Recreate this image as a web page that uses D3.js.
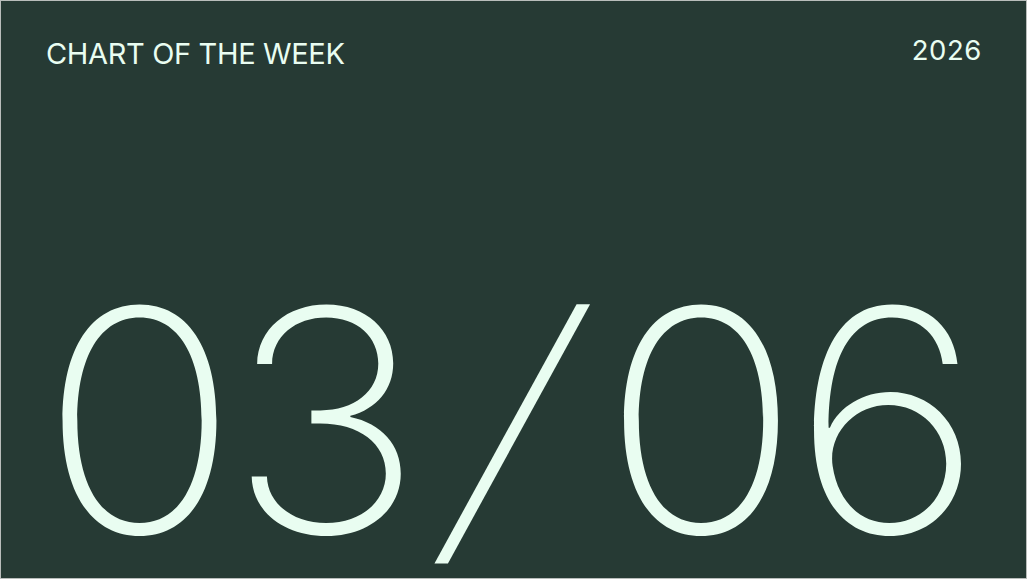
<!DOCTYPE html>
<html>
<head>
<meta charset="utf-8">
<script src="https://cdn.jsdelivr.net/npm/d3@7"></script>
<style>
  html, body { margin: 0; padding: 0; background: #263a34; }
  svg { display: block; }
</style>
</head>
<body>
<svg id="card"></svg>
<script>
// card text
const headerLabel = "CHART OF THE WEEK";
const yearLabel = "2026";
const dateGlyphs = ["0", "3", "/", "0", "6"];
// horizontal centre of each big glyph, in card units (0..1027)
const glyphCentres = [139.5, 325.5, 513, 701, 887.5];

var width = 1027, height = 579;
var bg = "#263a34", ink = "#e9fdf1";
var baseline = 533;

var svg = d3.select("#card")
    .attr("width", width)
    .attr("height", height)

svg.append("rect")
    .attr("x", 0.5)
    .attr("y", 0.5)
    .attr("width", width - 1)
    .attr("height", height - 1)
    .attr("fill", bg)
    .attr("stroke", "#b9bdbb")
    .attr("stroke-width", 1)

var x = d3.scaleLinear().domain([0, width]).range([0, width]);

svg.append("text")
    .text(headerLabel)
    .attr("x", x(46))
    .attr("y", 64)
    .style("font-family", "Inter")
    .style("font-weight", 400)
    .style("font-size", "29px")
    .style("letter-spacing", "-0.35px")
    .style("fill", ink)

svg.append("text")
    .text(yearLabel)
    .attr("x", x(982))
    .attr("y", 60)
    .style("text-anchor", "end")
    .style("font-family", "Inter")
    .style("font-weight", 400)
    .style("font-size", "27.5px")
    .style("letter-spacing", "0.6px")
    .style("fill", ink)

// big date, one glyph at a time so each can sit where the reference has it
svg.append("g")
    .selectAll("text")
    .data(dateGlyphs)
    .enter()
    .append("text")
    .text(function (d) { return d; })
    .attr("transform", function (d, i) {
        var cx = x(glyphCentres[i]);
        if (d === "/") {
            // the slash in the reference leans further over
            return "translate(" + cx + "," + (baseline - 102) + ") skewX(-15) scale(1,0.96) translate(0,104)";
        }
        return "translate(" + cx + "," + baseline + ") scale(1.06,1)";
    })
    .style("text-anchor", "middle")
    .style("font-family", "Inter")
    .style("font-weight", 200)
    .style("font-size", "310px")
    .style("fill", ink)
</script>
</body>
</html>
